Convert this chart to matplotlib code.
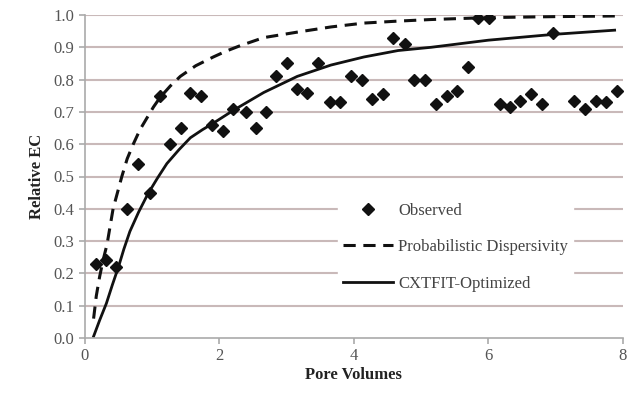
import matplotlib
matplotlib.use("Agg")
import matplotlib.pyplot as plt

# Observed data
obs_x = [0.16, 0.31, 0.47, 0.62, 0.79, 0.97, 1.12, 1.27, 1.43, 1.57, 1.73, 1.89,
         2.05, 2.21, 2.39, 2.54, 2.70, 2.85, 3.00, 3.15, 3.31, 3.47, 3.64, 3.79,
         3.96, 4.12, 4.27, 4.43, 4.59, 4.76, 4.90, 5.06, 5.22, 5.38, 5.53, 5.70,
         5.85, 6.01, 6.17, 6.33, 6.48, 6.64, 6.80, 6.97, 7.28, 7.44, 7.60, 7.75, 7.91]
obs_y = [0.23, 0.24, 0.22, 0.40, 0.54, 0.45, 0.75, 0.60, 0.65, 0.76, 0.75, 0.66,
         0.64, 0.71, 0.70, 0.65, 0.70, 0.81, 0.85, 0.77, 0.76, 0.85, 0.73, 0.73,
         0.81, 0.80, 0.74, 0.755, 0.93, 0.91, 0.80, 0.80, 0.725, 0.75, 0.765, 0.84,
         0.99, 0.99, 0.725, 0.715, 0.735, 0.755, 0.725, 0.945, 0.735, 0.71, 0.735, 0.73, 0.765]

# Probabilistic Dispersivity curve
pd_x = [0.13, 0.17, 0.22, 0.27, 0.33, 0.42, 0.55, 0.63, 0.72, 0.82, 0.92, 1.02, 1.12,
        1.27, 1.42, 1.65, 1.91, 2.1, 2.31, 2.66, 3.16, 3.66, 4.15, 4.65, 5.15, 6.0, 7.0, 7.9]
pd_y = [0.06, 0.13, 0.19, 0.24, 0.29, 0.40, 0.50, 0.555, 0.60, 0.645, 0.68, 0.715, 0.745,
        0.78, 0.81, 0.843, 0.87, 0.888, 0.905, 0.93, 0.947, 0.963, 0.975, 0.981, 0.986,
        0.992, 0.995, 0.997]

# CXTFIT-Optimized curve
cx_x = [0.13, 0.22, 0.32, 0.41, 0.50, 0.58, 0.67, 0.80, 0.94, 1.08, 1.22, 1.40, 1.57,
        1.75, 1.91, 2.21, 2.66, 3.16, 3.66, 4.15, 4.66, 5.15, 6.0, 6.97, 7.88]
cx_y = [0.005, 0.055, 0.107, 0.165, 0.22, 0.275, 0.33, 0.39, 0.447, 0.495, 0.54, 0.583,
        0.62, 0.645, 0.665, 0.705, 0.76, 0.81, 0.845, 0.87, 0.89, 0.90, 0.922, 0.94, 0.953]

x_ticks = [0, 2, 4, 6, 8]
y_ticks = [0.0, 0.1, 0.2, 0.3, 0.4, 0.5, 0.6, 0.7, 0.8, 0.9, 1.0]

plt.rcParams['font.family'] = ['Liberation Serif', 'DejaVu Serif']

fig = plt.figure(figsize=(6.38, 4.0), dpi=100)
ax = fig.add_axes([0.133, 0.155, 0.843, 0.8075])

grid_c = '#c9b9b9'
for yv in y_ticks[1:]:
    ax.axhline(yv, color=grid_c, lw=1.5, zorder=0)

ax.plot(obs_x, obs_y, 'D', color='#111111', ms=6.5, label='Observed', zorder=3)
ax.plot(pd_x, pd_y, '--', color='#111111', lw=2.2, dashes=(4, 2.5), label='Probabilistic Dispersivity', zorder=2)
ax.plot(cx_x, cx_y, '-', color='#111111', lw=2.0, label='CXTFIT-Optimized', zorder=2)

ax.set_xlim(0, 8)
ax.set_ylim(0, 1.0)
ax.set_xticks(x_ticks)
ax.set_yticks(y_ticks)
ax.set_yticklabels([f"{v:.1f}" for v in y_ticks])
for s in ['top', 'right']:
    ax.spines[s].set_visible(False)
for s in ['left', 'bottom']:
    ax.spines[s].set_color('#aaaaaa')
    ax.spines[s].set_linewidth(1.2)
ax.tick_params(colors='#aaaaaa', labelcolor='#555555', labelsize=12, length=4, width=1.2)

ax.set_xlabel('Pore Volumes', fontsize=12, fontweight='bold', color='#222222', labelpad=2)
ax.set_ylabel('Relative EC', fontsize=12, fontweight='bold', color='#222222', labelpad=6)

leg = ax.legend(loc='upper left', bbox_to_anchor=(0.455, 0.46), frameon=True, fontsize=12,
                handlelength=3.0, labelspacing=1.23, borderpad=0.3, handletextpad=0.3)
leg.get_frame().set_edgecolor('white')
leg.get_frame().set_facecolor('white')
leg.get_frame().set_alpha(1)
for t in leg.get_texts():
    t.set_color('#444444')

fig.savefig('out.png', dpi=100, facecolor='white')
